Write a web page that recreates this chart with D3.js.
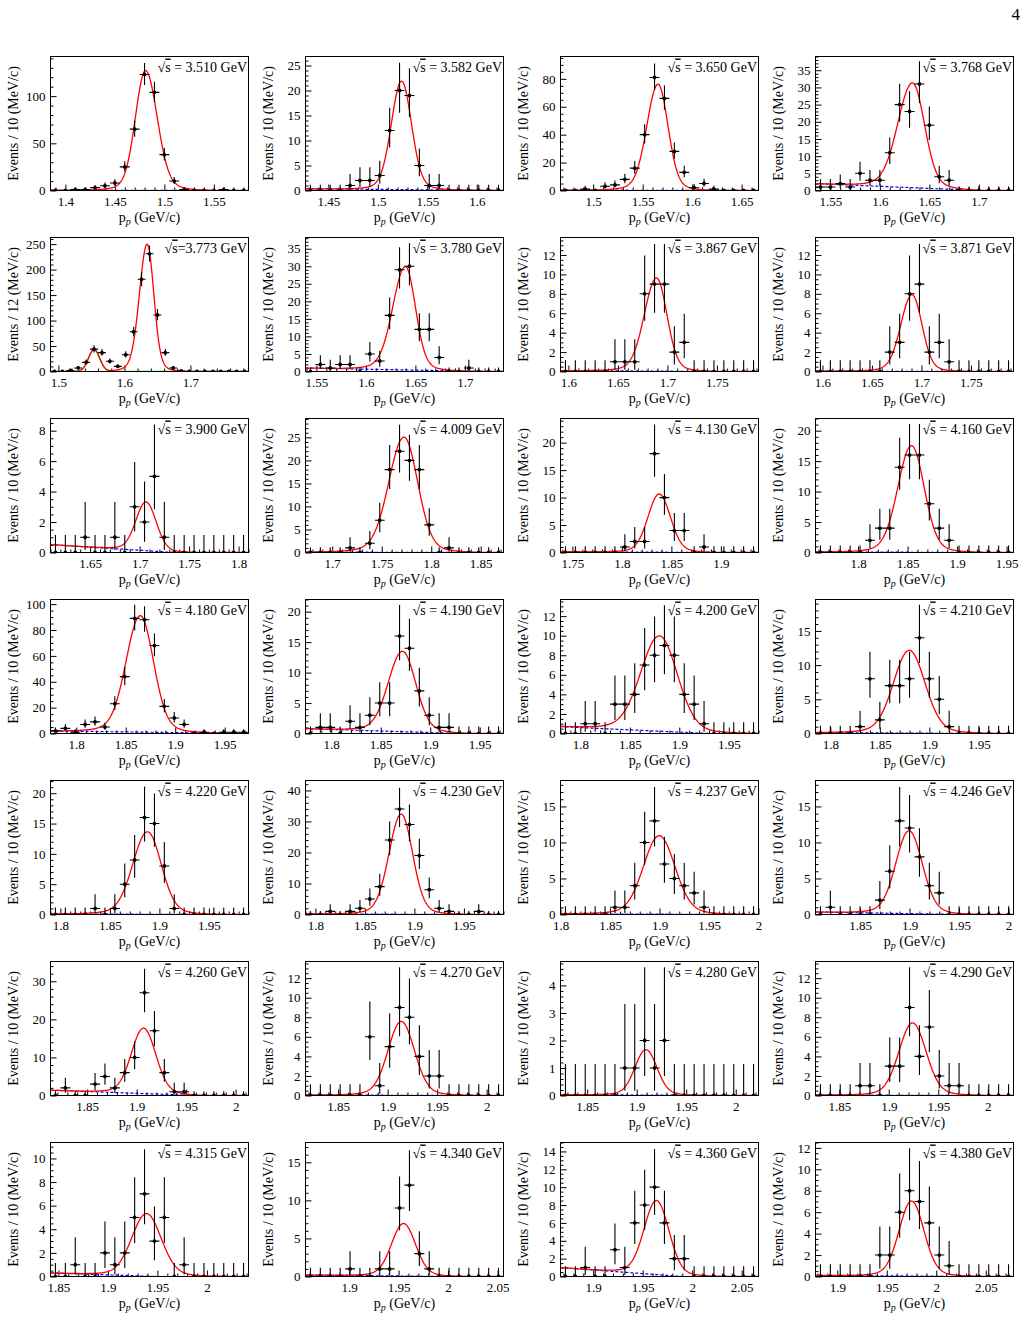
<!DOCTYPE html>
<html>
<head>
<meta charset="utf-8">
<script src="https://cdn.jsdelivr.net/npm/d3@7"></script>
<style>
body { margin: 0; background: #fff; }
text { font-family: "Liberation Serif", "DejaVu Serif", serif; fill: #000; }
</style>
</head>
<body>
<script>
// one entry per panel, reading order (4 per row)
var sqrtsText = [" = 3.510 GeV", " = 3.582 GeV", " = 3.650 GeV", " = 3.768 GeV",
                 "=3.773 GeV", " = 3.780 GeV", " = 3.867 GeV", " = 3.871 GeV",
                 " = 3.900 GeV", " = 4.009 GeV", " = 4.130 GeV", " = 4.160 GeV",
                 " = 4.180 GeV", " = 4.190 GeV", " = 4.200 GeV", " = 4.210 GeV",
                 " = 4.220 GeV", " = 4.230 GeV", " = 4.237 GeV", " = 4.246 GeV",
                 " = 4.260 GeV", " = 4.270 GeV", " = 4.280 GeV", " = 4.290 GeV",
                 " = 4.315 GeV", " = 4.340 GeV", " = 4.360 GeV", " = 4.380 GeV"];

// low edge of the first bin (GeV/c)
var xMins = [1.385, 1.427, 1.467, 1.535, 1.488, 1.539, 1.592, 1.593,
             1.610, 1.673, 1.738, 1.757, 1.774, 1.774, 1.780, 1.785,
             1.790, 1.790, 1.800, 1.805, 1.813, 1.817, 1.823, 1.826,
             1.842, 1.856, 1.867, 1.878];

var binWidths = [0.01, 0.01, 0.01, 0.01, 0.012, 0.01, 0.01, 0.01,
                 0.01, 0.01, 0.01, 0.01, 0.01, 0.01, 0.01, 0.01,
                 0.01, 0.01, 0.01, 0.01, 0.01, 0.01, 0.01, 0.01,
                 0.01, 0.01, 0.01, 0.01];

var counts = [
  [0,0,1,1,3,5,8,25,65,123,104,38,10,1,0,0,0,1,0,0],
  [0,0,0,0,1,2,2,3,12,20,19,5,1,1,0,0,0,0,0,0],
  [0,0,1,0,3,4,8,16,40,81,66,28,13,2,5,1,0,0,0,0],
  [1,1,2,1,5,3,3,11,25,23,31,19,4,3,0,0,0,0,0,0],
  [0,0,2,7,18,44,37,20,10,33,78,181,231,111,37,7,1,0,0,0,0,0,0,0,0],
  [0,2,1,2,2,0,5,3,16,29,30,12,12,4,0,0,1,0,0,0],
  [0,0,0,0,0,1,1,1,8,9,9,2,3,0,0,0,0,0,0,0],
  [0,0,0,0,0,0,0,2,3,8,9,2,3,1,0,0,0,0,0,0],
  [0,0,0,1,0,0,1,0,3,2,5,1,0,0,0,0,0,0,0,0],
  [0,0,0,0,1,0,2,7,18,22,20,18,6,0,1,0,0,0,0,0],
  [0,0,0,0,0,0,1,2,2,18,10,4,4,0,1,0,0,0,0,0],
  [0,0,0,0,0,2,4,4,14,16,16,8,4,2,0,0,0,0,0,0],
  [2,4,1,7,9,5,23,44,89,88,68,21,12,7,0,1,0,1,1,1],
  [0,1,1,0,2,1,3,5,5,16,14,7,3,1,1,0,0,0,0,0],
  [0,0,1,1,0,3,3,4,7,8,9,8,4,3,1,0,0,0,0,0],
  [0,0,0,0,1,8,2,7,7,8,14,8,5,1,0,0,0,0,0,0],
  [0,0,0,0,1,0,1,5,9,16,15,8,1,0,0,0,0,0,0,0],
  [0,0,1,0,1,2,5,9,24,34,29,19,8,2,1,0,0,1,0,0],
  [0,0,0,0,0,1,1,4,10,13,7,5,4,3,1,0,0,0,0,0],
  [0,1,0,0,0,0,2,6,13,12,8,4,3,0,0,0,0,0,0,0],
  [0,2,0,0,3,5,2,6,10,27,17,6,1,1,0,0,0,0,0,0],
  [0,0,0,0,0,0,6,1,5,9,8,4,2,2,0,0,0,0,0,0],
  [0,0,0,0,0,0,1,1,2,1,2,0,0,0,0,0,0,0,0,0],
  [0,0,0,0,1,1,0,3,3,9,4,7,2,1,1,0,0,0,0,0],
  [0,0,1,0,0,2,1,2,5,7,3,5,0,1,0,0,0,0,0,0],
  [0,0,0,0,1,0,0,1,1,9,12,3,1,0,0,0,0,0,0,0],
  [0,0,1,0,0,3,1,6,8,10,6,2,2,0,0,0,0,0,0,0],
  [0,0,0,0,0,0,2,2,6,8,7,5,2,1,0,0,0,0,0,0]
];

var yMaxes = [142, 26.8, 96, 39, 263, 38.2, 13.8, 13.8,
              8.8, 29.1, 24.4, 22, 103.6, 22, 13.7, 19.6,
              22.1, 43.2, 18.6, 18.6, 35.2, 13.7, 4.87, 13.7,
              11.35, 17.6, 15, 12.5];

var yTickSteps = [50, 5, 20, 5, 50, 5, 2, 2,
                  2, 5, 5, 5, 20, 5, 2, 5,
                  5, 10, 5, 5, 10, 2, 1, 2,
                  2, 5, 2, 2];

var xTickSteps = [0.05, 0.05, 0.05, 0.05, 0.1, 0.05, 0.05, 0.05,
                  0.05, 0.05, 0.05, 0.05, 0.05, 0.05, 0.05, 0.05,
                  0.05, 0.05, 0.05, 0.05, 0.05, 0.05, 0.05, 0.05,
                  0.05, 0.05, 0.05, 0.05];

// fit: signal peak height, mean, left/right width, linear background
var peakAmp = [127, 21.7, 76, 30.5, 250, 29.5, 9.6, 7.9,
               3.2, 25, 10.6, 17.5, 90, 13.2, 9.75, 12.1,
               13.6, 32.3, 10.9, 11.5, 17.2, 7.55, 1.65, 7.4,
               5.3, 6.9, 8.3, 7.0];
var peakMean = [1.481, 1.524, 1.5655, 1.633, 1.6345, 1.640, 1.689, 1.6905,
                1.7065, 1.7725, 1.8377, 1.854, 1.8647, 1.872, 1.880, 1.8797,
                1.888, 1.8867, 1.8997, 1.8995, 1.907, 1.9137, 1.9093, 1.924,
                1.939, 1.955, 1.964, 1.975];
var sigmaL = [0.0100, 0.0100, 0.0110, 0.0145, 0.0115, 0.0125, 0.0120, 0.0110,
              0.0100, 0.0150, 0.0110, 0.0135, 0.0140, 0.0140, 0.0185, 0.0155,
              0.0145, 0.0120, 0.0155, 0.0130, 0.0120, 0.0130, 0.0108, 0.0133,
              0.0145, 0.0118, 0.0122, 0.0122];
var sigmaR = [0.0115, 0.0098, 0.0098, 0.0118, 0.0098, 0.0098, 0.0102, 0.0098,
              0.0100, 0.0135, 0.0110, 0.0125, 0.0130, 0.0130, 0.0175, 0.0155,
              0.0135, 0.0112, 0.0155, 0.0130, 0.0120, 0.0130, 0.0108, 0.0133,
              0.0145, 0.0118, 0.0122, 0.0122];
var bkgLeft = [0.3, 0.35, 0.3, 2.0, 0, 1.0, 0.1, 0.05,
               0.52, 0.1, 0.15, 0.1, 2.0, 0.8, 0.7, 0.15,
               0.1, 0.2, 0.1, 0.35, 1.4, 0.05, 0.03, 0.05,
               0.3, 0.2, 1.0, 0.1];
var bkgZero = [1.56, 1.627, 1.667, 1.70, 1.70, 1.72, 1.75, 1.75,
               1.735, 1.85, 1.90, 1.93, 1.97, 1.93, 1.93, 1.95,
               1.95, 1.95, 1.98, 1.95, 1.96, 2.0, 2.0, 2.0,
               1.95, 2.0, 1.99, 2.05];

// extra (green) peak only in the 3.773 GeV panel
var greenPanel = 4;
var greenAmp = 43, greenMean = 1.554, greenSigma = 0.0085;

var tailFrac = 0.06, tailScale = 2.2;

var colLeft = [50, 305, 560, 815];
var rowTop = [56, 237, 418, 599, 780, 961, 1142];
var pw = 198, ph = 134;

var svg = d3.select("body").append("svg")
  .attr("width", 1026)
  .attr("height", 1344);

svg.append("text")
  .attr("x", 1020).attr("y", 20)
  .attr("text-anchor", "end")
  .style("font-size", "17px")
  .text("4");

function signal(x, k) {
  var s = x < peakMean[k] ? sigmaL[k] : sigmaR[k];
  var d = (x - peakMean[k]) / s;
  return peakAmp[k] * ((1 - tailFrac) * Math.exp(-0.5 * d * d) +
         tailFrac * Math.exp(-0.5 * d * d / (tailScale * tailScale)));
}

function background(x, k) {
  return bkgLeft[k] * Math.max(0, (bkgZero[k] - x) / (bkgZero[k] - xMins[k]));
}

function green(x) {
  var d = (x - greenMean) / greenSigma;
  return greenAmp * Math.exp(-0.5 * d * d);
}

function fmtX(v) { return String(+v.toFixed(3)); }

function poissonErr(n) {
  if (n === 0) return [0, 1.148];
  var lo = n * Math.pow(1 - 1 / (9 * n) - 1 / (3 * Math.sqrt(n)), 3);
  var hi = n + Math.sqrt(n + 0.75) + 1;
  return [lo, hi];
}

function range(a, b, step) {
  var out = [];
  var i0 = Math.ceil(a / step - 1e-6), i1 = Math.floor(b / step + 1e-6);
  for (var i = i0; i <= i1; i++) out.push(+(i * step).toFixed(4));
  return out;
}

sqrtsText.forEach(function(label, k) {
  var left = colLeft[k % 4], top = rowTop[Math.floor(k / 4)];
  var bw = binWidths[k], n = counts[k].length;
  var x0 = xMins[k], x1 = xMins[k] + bw * n;

  var xScale = d3.scaleLinear().domain([x0, x1]).range([0, pw]);
  var yScale = d3.scaleLinear().domain([0, yMaxes[k]]).range([ph, 0]);

  var g = svg.append("g").attr("transform", "translate(" + (left + 0.5) + "," + (top + 0.5) + ")");

  g.append("clipPath").attr("id", "clip" + k)
    .append("rect").attr("width", pw).attr("height", ph);

  // axes (ticks point inward)
  var xMajor = range(x0, x1, xTickSteps[k]);
  var xMinor = range(x0, x1, xTickSteps[k] / 5).filter(function(v) {
    return xMajor.indexOf(v) < 0;
  });
  var yStep = yTickSteps[k];
  var yMajor = range(0, yMaxes[k], yStep);
  var yMinorStep = (yStep === 2 || yStep === 20) ? yStep / 4 : yStep / 5;
  var yMinor = range(0, yMaxes[k], yMinorStep).filter(function(v) {
    return yMajor.indexOf(v) < 0;
  });

  var axX = g.append("g").attr("transform", "translate(0," + ph + ")")
    .call(d3.axisBottom(xScale).tickValues(xMajor).tickSize(-6).tickSizeOuter(0)
      .tickPadding(6).tickFormat(fmtX));
  g.append("g").attr("transform", "translate(0," + ph + ")")
    .call(d3.axisBottom(xScale).tickValues(xMinor).tickSize(-3).tickSizeOuter(0).tickFormat(""))
    .select(".domain").remove();
  var axY = g.append("g")
    .call(d3.axisLeft(yScale).tickValues(yMajor).tickSize(-6).tickSizeOuter(0)
      .tickPadding(5).tickFormat(String));
  g.append("g")
    .call(d3.axisLeft(yScale).tickValues(yMinor).tickSize(-3).tickSizeOuter(0).tickFormat(""))
    .select(".domain").remove();
  [axX, axY].forEach(function(a) {
    a.select(".domain").remove();
    a.attr("font-family", "Liberation Serif, DejaVu Serif, serif").attr("font-size", 13);
  });

  // fit curves
  var xs = d3.range(0, 401).map(function(i) { return x0 + (x1 - x0) * i / 400; });
  var line = d3.line()
    .x(function(d) { return xScale(d[0]); })
    .y(function(d) { return yScale(d[1]); });
  var curves = g.append("g").attr("clip-path", "url(#clip" + k + ")");

  curves.append("path")
    .datum(xs.map(function(x) { return [x, background(x, k)]; }))
    .attr("d", line).attr("fill", "none")
    .attr("stroke", "#0000ff").attr("stroke-width", 1.2).attr("stroke-dasharray", "3,2");

  if (k === greenPanel) {
    curves.append("path")
      .datum(xs.map(function(x) { return [x, green(x)]; }))
      .attr("d", line).attr("fill", "none")
      .attr("stroke", "#00dd00").attr("stroke-width", 1.3);
  }

  curves.append("path")
    .datum(xs.map(function(x) {
      return [x, signal(x, k) + background(x, k) + (k === greenPanel ? green(x) : 0)];
    }))
    .attr("d", line).attr("fill", "none")
    .attr("stroke", "#ff0000").attr("stroke-width", 1.3);

  // data points with errors
  var pts = g.append("g").attr("clip-path", "url(#clip" + k + ")");
  counts[k].forEach(function(v, i) {
    var c = x0 + (i + 0.5) * bw;
    var e = poissonErr(v);
    pts.append("line")
      .attr("x1", xScale(c - bw / 2)).attr("x2", xScale(c + bw / 2))
      .attr("y1", yScale(v)).attr("y2", yScale(v))
      .attr("stroke", "#000").attr("stroke-width", 1.1);
    pts.append("line")
      .attr("x1", xScale(c)).attr("x2", xScale(c))
      .attr("y1", yScale(e[0])).attr("y2", yScale(e[1]))
      .attr("stroke", "#000").attr("stroke-width", 1.1);
    pts.append("circle")
      .attr("cx", xScale(c)).attr("cy", yScale(v)).attr("r", 1.9)
      .attr("fill", "#000");
  });

  // frame
  g.append("rect").attr("width", pw).attr("height", ph)
    .attr("fill", "none").attr("stroke", "#000").attr("stroke-width", 1);

  // sqrt(s) label
  var t = g.append("text")
    .attr("x", pw - 1.5).attr("y", 15)
    .attr("text-anchor", "end")
    .style("font-size", "14px");
  t.append("tspan").text("\u221a");
  t.append("tspan").style("text-decoration", "overline").text("s");
  t.append("tspan").text(label);

  // axis titles
  var xt = g.append("text")
    .attr("x", pw / 2).attr("y", ph + 31)
    .attr("text-anchor", "middle")
    .style("font-size", "14px");
  xt.append("tspan").text("p");
  xt.append("tspan").attr("dy", 3).style("font-size", "10px").style("font-style", "italic").text("p");
  xt.append("tspan").attr("dy", -3).text(" (GeV/c)");

  g.append("text")
    .attr("transform", "translate(-37," + (ph / 2) + ") rotate(-90)")
    .attr("text-anchor", "middle")
    .attr("dy", "0.35em")
    .style("font-size", "14px")
    .text("Events / " + Math.round(bw * 1000) + " (MeV/c)");
});
</script>
</body>
</html>
